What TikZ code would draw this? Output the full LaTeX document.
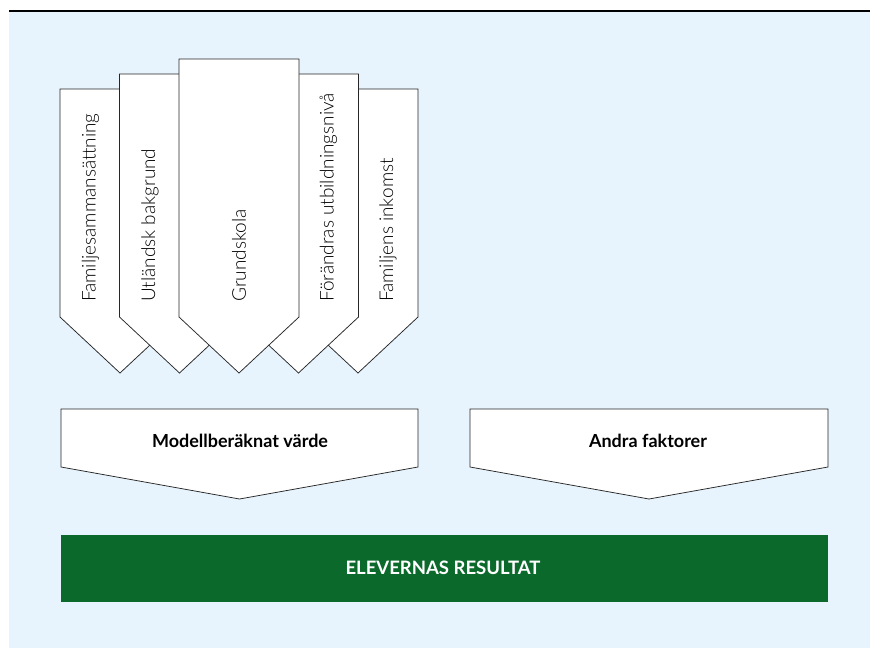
\documentclass[tikz,border=0pt]{standalone}
\usepackage{fontspec}
\setmainfont{Lato}
\newfontfamily\tunn{Lato Light}
\definecolor{bakgrund}{HTML}{E8F4FD}
\definecolor{skolgron}{HTML}{0B6A2B}
\tikzset{pil/.style={draw=black!85,fill=white,line width=0.75pt,line join=miter}}
\tikzset{stapel/.style={rotate=90,anchor=west,inner sep=0pt,font=\tunn\fontsize{19}{22}\selectfont}}
\tikzset{rubrik/.style={inner sep=0pt,font=\bfseries\fontsize{18}{22}\selectfont}}

\begin{document}
\begin{tikzpicture}[x=1pt,y=-1pt]
\useasboundingbox (0,0) rectangle (870,648);
\fill[bakgrund] (9,12) rectangle (870,648);
\draw[line width=2.2pt] (9,11)--(870,11);
\foreach \c/\t in {120/89,358/89,179.5/74,298.5/74,239/59}
  \draw[pil] (\c-60,\t)--(\c+60,\t)--(\c+60,317)--(\c,373)--(\c-60,317)--cycle;
\node[stapel] (fam) at (90.5,302) {Familjesammansättning};
\node[stapel] (utl) at (150,302) {Utländsk bakgrund};
\node[stapel] (grund) at (239,302) {Grundskola};
\node[stapel] (foer) at (328.5,302) {Förändras utbildningsnivå};
\node[stapel] (ink) at (388,302) {Familjens inkomst};
\draw[pil] (61,409)--(418,409)--(418,467)--(239.5,499)--(61,467)--cycle;
\draw[pil] (470,409)--(828,409)--(828,467)--(649,499)--(470,467)--cycle;
\node[rubrik] (modell) at (240,441) {Modellberäknat värde};
\node[rubrik] (andra) at (648,441) {Andra faktorer};
\fill[skolgron] (61,535) rectangle (828,602);
\node[rubrik,text=white,font=\bfseries\fontsize{18.5}{22}\selectfont] (resultat) at (443,568) {ELEVERNAS RESULTAT};
\end{tikzpicture}
\end{document}
